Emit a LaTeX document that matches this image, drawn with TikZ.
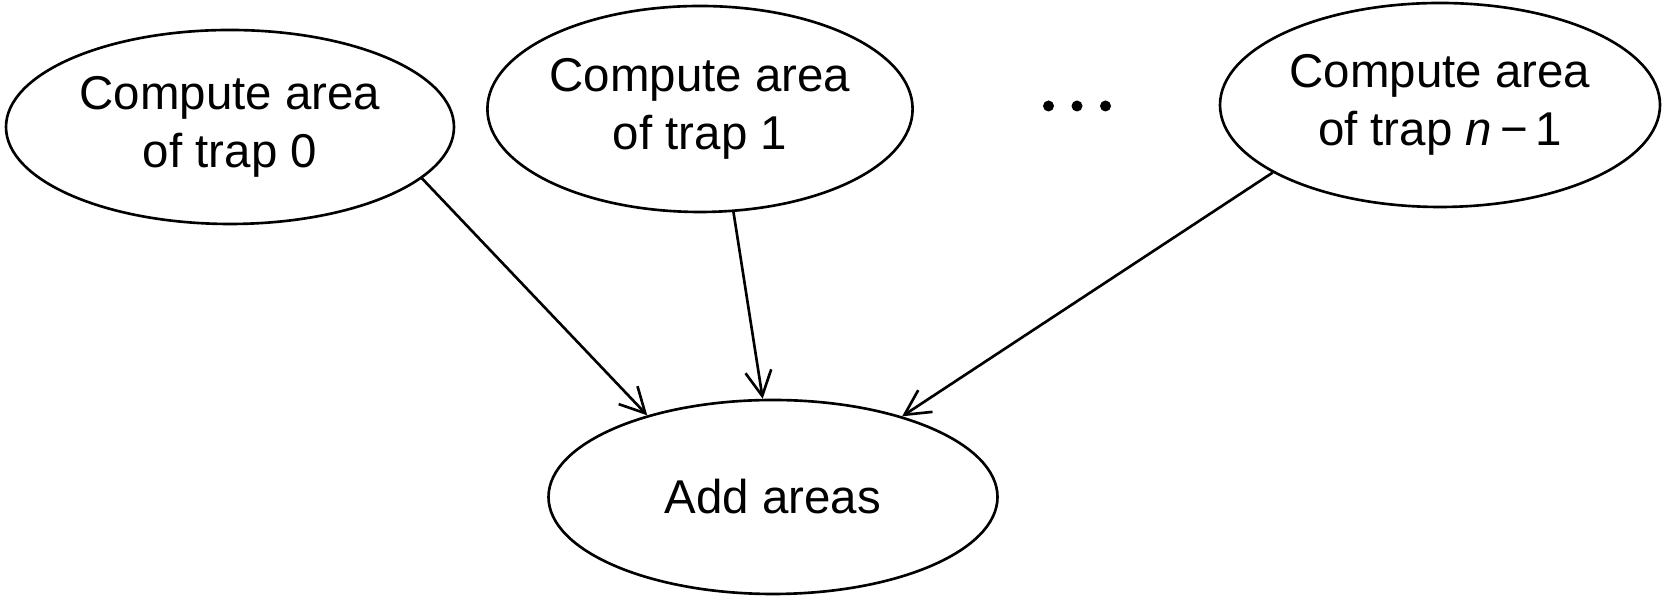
\documentclass[tikz,border=0pt]{standalone}
\usepackage{fontspec}
\setmainfont{Liberation Sans}
\usetikzlibrary{arrows.meta,shapes.geometric,positioning}

\begin{document}
\begin{tikzpicture}[>={Straight Barb[length=2.5mm,width=2.6mm]},line width=0.75pt,on grid,font=\fontsize{13.5}{16.5}\selectfont]
  \tikzstyle{task}=[draw,ellipse,align=center,inner sep=0pt]
  \useasboundingbox (0,0) rectangle (16.63,-5.96);

    \node[task,minimum width=4.48cm,minimum height=1.94cm] (t0) at (2.30,-1.27) {Compute area\\of trap 0};
    \node[task,minimum width=4.04cm,minimum height=2.06cm] (t1) [above right=0.18cm and 4.70cm of t0] {Compute area\\of trap 1};
    \coordinate[above right=0.03cm and 3.77cm of t1] (dots);
    \node[task,minimum width=4.40cm,minimum height=2.04cm] (tn) [above right=0.04cm and 7.40cm of t1] {Compute area\\of trap \textit{n}\,−\,1};
    \node[task,minimum width=4.49cm,minimum height=1.94cm] (add) [below right=3.88cm and 0.73cm of t1] {Add areas};

    \fill ([xshift=-2.85mm]dots) circle (0.55mm);
    \fill (dots) circle (0.55mm);
    \fill ([xshift=2.85mm]dots) circle (0.55mm);

    \path[->]
    (t0.-15) edge (add.147)
    (t1.-72) edge (add.96)
    (tn.202) edge (add.32)
    ;

\end{tikzpicture}
\end{document}
